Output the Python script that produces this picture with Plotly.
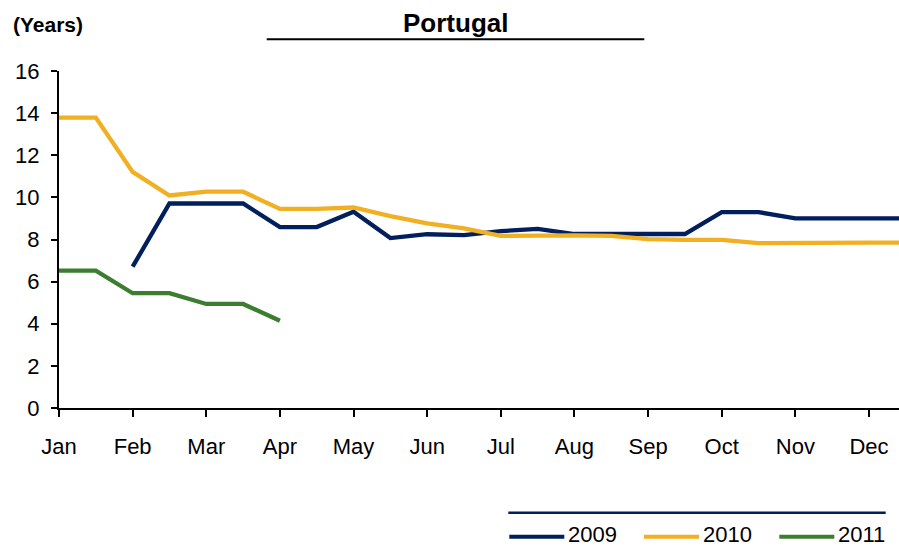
import plotly.graph_objects as go

# ---- data ----
months = ["Jan", "Feb", "Mar", "Apr", "May", "Jun", "Jul", "Aug", "Sep", "Oct", "Nov", "Dec"]
# observations twice a month (index i -> month position i/2)
y2009 = [None, None, 6.71, 9.71, 9.71, 9.71, 8.59, 8.59, 9.32, 8.07, 8.25, 8.21,
         8.40, 8.50, 8.26, 8.26, 8.26, 8.26, 9.30, 9.30, 9.00, 9.00, 9.00, 9.00]
y2010 = [13.79, 13.79, 11.21, 10.09, 10.27, 10.27, 9.45, 9.45, 9.52, 9.11, 8.77, 8.53,
         8.17, 8.21, 8.20, 8.17, 8.02, 7.98, 7.98, 7.83, 7.85, 7.85, 7.85, 7.85]
y2011 = [6.52, 6.52, 5.45, 5.45, 4.94, 4.94, 4.14]
series_names = ["2009", "2010", "2011"]
series_values = [y2009, y2010, y2011]
series_colors = ["#001F5C", "#F0B022", "#3D7D2F"]
yticks = [0, 2, 4, 6, 8, 10, 12, 14, 16]

W, H = 899, 547
ML, MR, MT, MB = 59, 0, 71, 139
PW, PH = W - ML - MR, H - MT - MB


def px(x):
    return (x - ML) / PW


def py(y):
    return (H - MB - y) / PH


FONT = "Liberation Sans, Arial, sans-serif"

fig = go.Figure()
for name, vals, col in zip(series_names, series_values, series_colors):
    xs = [i / 2 for i in range(len(vals))]
    fig.add_trace(go.Scatter(x=xs, y=vals, mode="lines", name=name,
                             line=dict(color=col, width=4.3), connectgaps=False,
                             showlegend=False, hoverinfo="skip"))

month_step_px = (869 - 59) / 11
fig.update_layout(
    width=W, height=H,
    margin=dict(l=ML, r=MR, t=MT, b=MB, pad=0),
    paper_bgcolor="white", plot_bgcolor="white",
    font=dict(family=FONT, size=22, color="black"),
    xaxis=dict(range=[0, PW / month_step_px], tickmode="array",
               tickvals=list(range(12)), ticktext=months,
               showgrid=False, zeroline=False, showline=True, linecolor="black",
               linewidth=2, ticks="outside", ticklen=7, tickwidth=2, tickcolor="black",
               tickfont=dict(size=22), ticklabelstandoff=11),
    yaxis=dict(range=[0, 16], tickmode="array", tickvals=yticks,
               ticktext=[str(v) for v in yticks],
               showgrid=False, zeroline=False, showline=True, linecolor="black",
               linewidth=2, ticks="outside", ticklen=6, tickwidth=2, tickcolor="black",
               tickfont=dict(size=22), ticklabelstandoff=7),
    showlegend=False,
)

shapes = [
    dict(type="line", xref="paper", yref="paper", x0=px(266.7), x1=px(644.3),
         y0=py(39.3), y1=py(39.3), line=dict(color="black", width=2)),
    dict(type="line", xref="paper", yref="paper", x0=px(508.3), x1=px(885.7),
         y0=py(512.7), y1=py(512.7), line=dict(color="#001F5C", width=2.5)),
]
annotations = [
    dict(text="<b>Portugal</b>", xref="paper", yref="paper", x=px(455), y=py(23),
         xanchor="center", yanchor="middle", showarrow=False, font=dict(size=26)),
    dict(text="<b>(Years)</b>", xref="paper", yref="paper", x=px(11), y=py(25),
         xanchor="left", yanchor="middle", showarrow=False, font=dict(size=21)),
]
# custom legend
leg_x = [509.3, 644, 779.3]
for name, col, x0 in zip(series_names, series_colors, leg_x):
    shapes.append(dict(type="line", xref="paper", yref="paper", x0=px(x0), x1=px(x0 + 55),
                       y0=py(536.7), y1=py(536.7), line=dict(color=col, width=4)))
    annotations.append(dict(text=name, xref="paper", yref="paper", x=px(x0 + 57),
                            y=py(534.8), xanchor="left", yanchor="middle",
                            showarrow=False, font=dict(size=22)))
fig.update_layout(shapes=shapes, annotations=annotations)

fig.write_html("out.html", config={"displayModeBar": False},
               post_script="document.body.style.margin='0';document.body.style.padding='0';")
